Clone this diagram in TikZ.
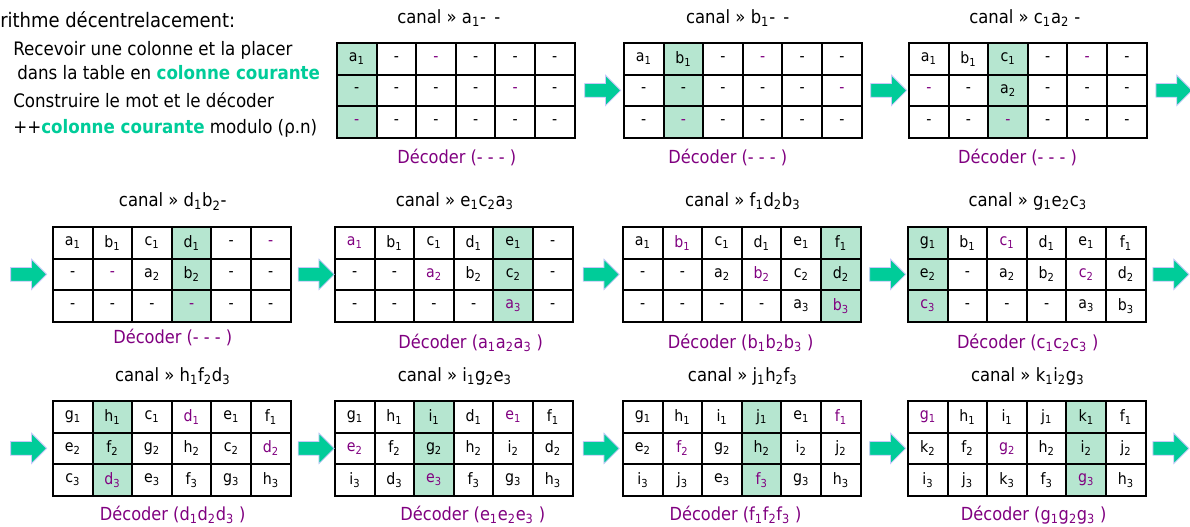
\documentclass[tikz,border=0pt]{standalone}
\usepackage{fontspec}
\setmainfont{DejaVu Sans Condensed}
\usetikzlibrary{positioning,calc,shapes.arrows}

\definecolor{turq}{RGB}{0,204,153}
\definecolor{menthe}{RGB}{182,230,208}
\definecolor{violette}{RGB}{128,0,128}
\definecolor{bordfleche}{RGB}{200,200,250}

\newcommand{\idx}[1]{\textsubscript{#1}}
\newcommand{\mk}{\color{violette}}
\newcommand{\courante}{\textbf{\color{turq}colonne courante}}
\newcommand{\cellw}{0.99}
\newcommand{\cellh}{0.79}

% table 3x6: name, top-left corner, current column, the three rows
\newcommand{\grille}[6]{%
  \begin{scope}[shift={#2}]
    \fill[menthe] ({(#3-1)*\cellw},0) rectangle ++(\cellw,{-3*\cellh});
    \foreach \ligne [count=\lig] in {{#4},{#5},{#6}}
      \foreach \txt [count=\col] in \ligne
        \node[case] (#1-\lig-\col) at ({(\col-0.5)*\cellw},{-(\lig-0.5)*\cellh}) {\txt};
  \end{scope}}

\begin{document}
\begin{tikzpicture}[
  case/.style={draw, line width=1.35pt, minimum width=0.99cm, minimum height=0.79cm, inner sep=0pt, font=\fontsize{11.2}{13}\selectfont},
  texte/.style={anchor=west, inner sep=0pt, font=\fontsize{13.2}{15}\selectfont},
  titre/.style={inner sep=0pt, font=\fontsize{13}{15}\selectfont},
  legende/.style={inner sep=0pt, text=violette, font=\fontsize{12.8}{15}\selectfont},
  fleche/.style={single arrow, fill=turq, draw=bordfleche, line width=0.6pt, inner xsep=0pt, inner ysep=0.16cm,
    minimum height=0.9cm, single arrow head extend=0.21cm},
]
\useasboundingbox (0,0) rectangle (29.75,-13.175);

% Algorithm text
\node[texte, font=\fontsize{14.2}{16}\selectfont] (algo) at (0,-0.5) {rithme décentrelacement:};
\node[texte] (recevoir)   at (0.325,-1.25) {Recevoir une colonne et la placer};
\node[texte] (placer)     at (0.425,-1.825) {dans la table en \courante};
\node[texte] (construire) at (0.325,-2.5)  {Construire le mot et le décoder};
\node[texte] (incr)       at (0.325,-3.2)  {++\courante{} modulo (ρ.n)};

% Row 1
\grille{T0}{(8.425,-1.075)}{1}{a\idx1,-,\mk-,-,-,-}{-,-,-,-,\mk-,-}{\mk-,-,-,-,-,-}
\grille{T1}{(15.6,-1.075)}{2}{a\idx1,b\idx1,-,\mk-,-,-}{-,-,-,-,-,\mk-}{-,\mk-,-,-,-,-}
\grille{T2}{(22.725,-1.075)}{3}{a\idx1,b\idx1,c\idx1,-,\mk-,-}{\mk-,-,a\idx2,-,-,-}{-,-,\mk-,-,-,-}

% Row 2
\grille{T3}{(1.325,-5.675)}{4}{a\idx1,b\idx1,c\idx1,d\idx1,-,\mk-}{-,\mk-,a\idx2,b\idx2,-,-}{-,-,-,\mk-,-,-}
\grille{T4}{(8.375,-5.675)}{5}{\mk a\idx1,b\idx1,c\idx1,d\idx1,e\idx1,-}{-,-,\mk a\idx2,b\idx2,c\idx2,-}{-,-,-,-,\mk a\idx3,-}
\grille{T5}{(15.575,-5.675)}{6}{a\idx1,\mk b\idx1,c\idx1,d\idx1,e\idx1,f\idx1}{-,-,a\idx2,\mk b\idx2,c\idx2,d\idx2}{-,-,-,-,a\idx3,\mk b\idx3}
\grille{T6}{(22.7,-5.675)}{1}{g\idx1,b\idx1,\mk c\idx1,d\idx1,e\idx1,f\idx1}{e\idx2,-,a\idx2,b\idx2,\mk c\idx2,d\idx2}{\mk c\idx3,-,-,-,a\idx3,b\idx3}

% Row 3
\grille{T7}{(1.325,-10.025)}{2}{g\idx1,h\idx1,c\idx1,\mk d\idx1,e\idx1,f\idx1}{e\idx2,f\idx2,g\idx2,h\idx2,c\idx2,\mk d\idx2}{c\idx3,\mk d\idx3,e\idx3,f\idx3,g\idx3,h\idx3}
\grille{T8}{(8.375,-10.025)}{3}{g\idx1,h\idx1,i\idx1,d\idx1,\mk e\idx1,f\idx1}{\mk e\idx2,f\idx2,g\idx2,h\idx2,i\idx2,d\idx2}{i\idx3,d\idx3,\mk e\idx3,f\idx3,g\idx3,h\idx3}
\grille{T9}{(15.575,-10.025)}{4}{g\idx1,h\idx1,i\idx1,j\idx1,e\idx1,\mk f\idx1}{e\idx2,\mk f\idx2,g\idx2,h\idx2,i\idx2,j\idx2}{i\idx3,j\idx3,e\idx3,\mk f\idx3,g\idx3,h\idx3}
\grille{T10}{(22.7,-10.025)}{5}{\mk g\idx1,h\idx1,i\idx1,j\idx1,k\idx1,f\idx1}{k\idx2,f\idx2,\mk g\idx2,h\idx2,i\idx2,j\idx2}{i\idx3,j\idx3,k\idx3,f\idx3,\mk g\idx3,h\idx3}

% Titles
\node[titre] (tT0)  at ($(T0-1-3.north east)+(-0.2,0.6)$)  {canal » a\idx1- \,-};
\node[titre] (tT1)  at ($(T1-1-3.north east)+(-0.15,0.6)$) {canal » b\idx1- \,-};
\node[titre] (tT2)  at ($(T2-1-3.north east)+(-0.1,0.6)$)  {canal » c\idx1a\idx2 -};
\node[titre] (tT3)  at ($(T3-1-3.north east)+(0,0.62)$)   {canal » d\idx1b\idx2-};
\node[titre] (tT4)  at ($(T4-1-3.north east)+(0,0.62)$)   {canal » e\idx1c\idx2a\idx3};
\node[titre] (tT5)  at ($(T5-1-3.north east)+(0,0.62)$)   {canal » f\idx1d\idx2b\idx3};
\node[titre] (tT6)  at ($(T6-1-3.north east)+(0,0.62)$)   {canal » g\idx1e\idx2c\idx3};
\node[titre] (tT7)  at ($(T7-1-3.north east)+(0,0.6)$)  {canal » h\idx1f\idx2d\idx3};
\node[titre] (tT8)  at ($(T8-1-3.north east)+(0,0.6)$)  {canal » i\idx1g\idx2e\idx3};
\node[titre] (tT9)  at ($(T9-1-3.north east)+(0,0.6)$)  {canal » j\idx1h\idx2f\idx3};
\node[titre] (tT10) at ($(T10-1-3.north east)+(0,0.6)$) {canal » k\idx1i\idx2g\idx3};

% Captions
\node[legende] (cT0)  at ($(T0-3-3.south east)+(0,-0.48)$)      {Décoder (- - - )};
\node[legende] (cT1)  at ($(T1-3-3.south east)+(-0.4,-0.48)$)   {Décoder (- - - )};
\node[legende] (cT2)  at ($(T2-3-3.south east)+(-0.28,-0.48)$)  {Décoder (- - - )};
\node[legende] (cT3)  at ($(T3-3-3.south east)+(0,-0.38)$)      {Décoder (- - - )};
\node[legende] (cT4)  at ($(T4-3-3.south east)+(0.4,-0.5)$)     {Décoder (a\idx1a\idx2a\idx3 )};
\node[legende] (cT5)  at ($(T5-3-3.south east)+(-0.05,-0.5)$)   {Décoder (b\idx1b\idx2b\idx3 )};
\node[legende] (cT6)  at ($(T6-3-3.south east)+(0,-0.5)$)       {Décoder (c\idx1c\idx2c\idx3 )};
\node[legende] (cT7)  at ($(T7-3-3.south east)+(0,-0.45)$)      {Décoder (d\idx1d\idx2d\idx3 )};
\node[legende] (cT8)  at ($(T8-3-3.south east)+(0.45,-0.45)$)   {Décoder (e\idx1e\idx2e\idx3 )};
\node[legende] (cT9)  at ($(T9-3-3.south east)+(-0.18,-0.45)$)  {Décoder (f\idx1f\idx2f\idx3 )};
\node[legende] (cT10) at ($(T10-3-3.south east)+(0.15,-0.45)$)  {Décoder (g\idx1g\idx2g\idx3 )};

% Arrows between the steps
\node[fleche] (f01)  at ($(T0-2-6.east)!0.5!(T1-2-1.west)$) {};
\node[fleche] (f12)  at ($(T1-2-6.east)!0.5!(T2-2-1.west)$) {};
\node[fleche, right=0.2cm of T2-2-6.east]  (f2) {};
\node[fleche, left=0.12cm of T3-2-1.west]  (f3) {};
\node[fleche] (f34)  at ($(T3-2-6.east)!0.5!(T4-2-1.west)$) {};
\node[fleche] (f45)  at ($(T4-2-6.east)!0.5!(T5-2-1.west)$) {};
\node[fleche] (f56)  at ($(T5-2-6.east)!0.5!(T6-2-1.west)$) {};
\node[fleche, right=0.15cm of T6-2-6.east] (f6) {};
\node[fleche, left=0.12cm of T7-2-1.west]  (f7) {};
\node[fleche] (f78)  at ($(T7-2-6.east)!0.5!(T8-2-1.west)$) {};
\node[fleche] (f89)  at ($(T8-2-6.east)!0.5!(T9-2-1.west)$) {};
\node[fleche] (f910) at ($(T9-2-6.east)!0.5!(T10-2-1.west)$) {};
\node[fleche, right=0.15cm of T10-2-6.east] (f10) {};

\end{tikzpicture}
\end{document}
